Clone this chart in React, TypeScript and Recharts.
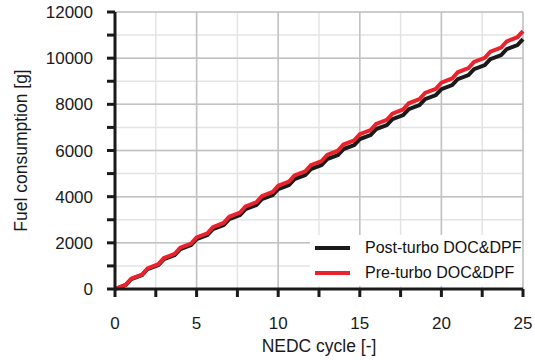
import { LineChart, Line, XAxis, YAxis, CartesianGrid, ReferenceLine, Legend, Label } from 'recharts';

// NEDC cycle count (end of ECE part + end of each full cycle)
const cycles = [
  0, 0.66, 1, 1.66, 2, 2.66, 3, 3.66, 4, 4.66, 5, 5.66, 6, 6.66, 7, 7.66, 8, 8.66, 9, 9.66,
  10, 10.66, 11, 11.66, 12, 12.66, 13, 13.66, 14, 14.66, 15, 15.66, 16, 16.66, 17, 17.66,
  18, 18.66, 19, 19.66, 20, 20.66, 21, 21.66, 22, 22.66, 23, 23.66, 24, 24.66, 25,
];

// cumulative fuel [g]
const postTurbo = [
  0, 175, 433, 608, 866, 1041, 1299, 1474, 1732, 1907, 2165, 2340, 2598, 2773, 3031, 3206,
  3464, 3639, 3897, 4072, 4330, 4505, 4763, 4938, 5196, 5371, 5629, 5804, 6062, 6237, 6495,
  6670, 6928, 7103, 7361, 7536, 7794, 7969, 8227, 8402, 8660, 8835, 9093, 9268, 9526, 9701,
  9959, 10134, 10392, 10567, 10825,
];
const preTurbo = [
  0, 180, 447, 627, 894, 1074, 1341, 1521, 1788, 1968, 2235, 2415, 2682, 2862, 3129, 3309,
  3576, 3756, 4023, 4203, 4470, 4650, 4917, 5097, 5364, 5544, 5811, 5991, 6258, 6438, 6705,
  6885, 7152, 7332, 7599, 7779, 8046, 8226, 8493, 8673, 8940, 9120, 9387, 9567, 9834, 10014,
  10281, 10461, 10728, 10908, 11175,
];

const xTicks = [0, 2.5, 5, 7.5, 10, 12.5, 15, 17.5, 20, 22.5, 25];
const yTicks = [0, 1000, 2000, 3000, 4000, 5000, 6000, 7000, 8000, 9000, 10000, 11000, 12000];
const xMajor = [5, 10, 15, 20, 25];
const yMajor = [2000, 4000, 6000, 8000, 10000, 12000];

const data = cycles.map((c, i) => ({ cycle: c, post: postTurbo[i], pre: preTurbo[i] }));

const font = '"Liberation Sans", Arial, sans-serif';

function renderLegend(props: any) {
  const { payload } = props;
  return (
    <div style={{ background: '#fff', width: 212, height: 51, paddingTop: 0, boxSizing: 'border-box', fontFamily: font, fontSize: 16 }}>
      {payload.map((p: any) => (
        <div key={p.value} style={{ display: 'flex', alignItems: 'center', height: 25 }}>
          <div style={{ width: 35, height: 4, background: p.color, marginLeft: 5, marginRight: 15 }} />
          <span style={{ color: '#111' }}>{p.value}</span>
        </div>
      ))}
    </div>
  );
}

export default function App() {
  return (
    <div style={{ position: 'absolute', left: 0, top: 0, width: 535, height: 364, background: '#fff' }}>
      <LineChart width={535} height={364} data={data} margin={{ top: 12, right: 12, bottom: 0, left: 0 }}>
        <CartesianGrid stroke="#e4e4e4" strokeWidth={1.5} />
        {xMajor.map(v => (
          <ReferenceLine key={'x' + v} x={v} stroke="#c2c2c2" strokeWidth={1.5} />
        ))}
        {yMajor.map(v => (
          <ReferenceLine key={'y' + v} y={v} stroke="#c2c2c2" strokeWidth={1.5} />
        ))}
        <XAxis
          dataKey="cycle"
          type="number"
          domain={[0, 25]}
          ticks={xTicks}
          interval={0}
          height={75}
          tickSize={8}
          tickMargin={20}
          tickFormatter={(v: number) => (v % 5 === 0 ? String(v) : '')}
          tick={{ fill: '#1a1a1a', fontSize: 17, fontFamily: font }}
          axisLine={{ stroke: '#1a1a1a', strokeWidth: 3 }}
          tickLine={{ stroke: '#1a1a1a', strokeWidth: 3 }}
        >
          <Label value="NEDC cycle [-]" position="insideBottom" offset={12} style={{ fill: '#1a1a1a', fontSize: 17.5, fontFamily: font }} />
        </XAxis>
        <YAxis
          type="number"
          domain={[0, 12000]}
          ticks={yTicks}
          interval={0}
          width={115}
          tickSize={8}
          tickMargin={14}
          tickFormatter={(v: number) => (v % 2000 === 0 ? String(v) : '')}
          tick={{ fill: '#1a1a1a', fontSize: 17, fontFamily: font }}
          axisLine={{ stroke: '#1a1a1a', strokeWidth: 3 }}
          tickLine={{ stroke: '#1a1a1a', strokeWidth: 3 }}
        >
          <Label
            value="Fuel consumption [g]"
            angle={-90}
            position="insideLeft"
            offset={21}
            style={{ textAnchor: 'middle', fill: '#1a1a1a', fontSize: 17.5, fontFamily: font }}
          />
        </YAxis>
        <Legend
          layout="vertical"
          align="center"
          verticalAlign="middle"
          content={renderLegend}
          wrapperStyle={{ position: 'absolute', left: 310, top: 235, width: 212 }}
        />
        <Line type="linear" dataKey="post" name="Post-turbo DOC&DPF" stroke="#1a1a1a" strokeWidth={4} dot={false} isAnimationActive={false} />
        <Line type="linear" dataKey="pre" name="Pre-turbo DOC&DPF" stroke="#e8232b" strokeWidth={4} dot={false} isAnimationActive={false} />
      </LineChart>
    </div>
  );
}
